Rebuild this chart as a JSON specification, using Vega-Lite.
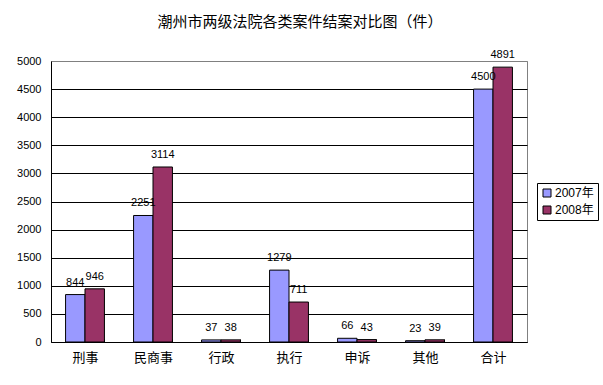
{
  "$schema": "https://vega.github.io/schema/vega-lite/v6.json",
  "width": 476,
  "height": 281,
  "autosize": {"type": "none"},
  "padding": {"left": 51, "top": 61, "right": 76, "bottom": 43},
  "background": "white",
  "title": {
    "text": "潮州市两级法院各类案件结案对比图（件）",
    "font": "Noto Sans CJK SC",
    "fontSize": 15,
    "fontWeight": "normal",
    "color": "black",
    "anchor": "middle",
    "frame": "group",
    "baseline": "middle",
    "dx": 11,
    "offset": 12
  },
  "data": {
    "values": [
      {"category": "刑事", "year": "2007年", "count": 844},
      {"category": "刑事", "year": "2008年", "count": 946},
      {"category": "民商事", "year": "2007年", "count": 2251},
      {"category": "民商事", "year": "2008年", "count": 3114},
      {"category": "行政", "year": "2007年", "count": 37},
      {"category": "行政", "year": "2008年", "count": 38},
      {"category": "执行", "year": "2007年", "count": 1279},
      {"category": "执行", "year": "2008年", "count": 711},
      {"category": "申诉", "year": "2007年", "count": 66},
      {"category": "申诉", "year": "2008年", "count": 43},
      {"category": "其他", "year": "2007年", "count": 23},
      {"category": "其他", "year": "2008年", "count": 39},
      {"category": "合计", "year": "2007年", "count": 4500},
      {"category": "合计", "year": "2008年", "count": 4891}
    ]
  },
  "encoding": {
    "x": {
      "field": "category",
      "type": "nominal",
      "sort": null,
      "title": null,
      "scale": {"paddingInner": 0.4286, "paddingOuter": 0.2143},
      "axis": {
        "labelAngle": 0,
        "labelFont": "Noto Sans CJK SC",
        "labelFontSize": 13,
        "labelColor": "black",
        "labelBaseline": "top",
        "labelPadding": 12,
        "tickBand": "extent",
        "tickSize": -3,
        "tickColor": "black",
        "domainColor": "black",
        "grid": false
      }
    },
    "xOffset": {"field": "year", "type": "nominal", "scale": {"paddingInner": 0, "paddingOuter": 0}},
    "y": {
      "field": "count",
      "type": "quantitative",
      "title": null,
      "scale": {"domain": [0, 5000], "nice": false},
      "axis": {
        "values": [0, 500, 1000, 1500, 2000, 2500, 3000, 3500, 4000, 4500, 5000],
        "format": "d",
        "labelFont": "Liberation Sans",
        "labelFontSize": 11,
        "labelColor": "black",
        "labelPadding": 10,
        "ticks": false,
        "domainColor": "black",
        "grid": true,
        "gridColor": {"condition": {"test": "datum.value === 5000", "value": "#808080"}, "value": "black"},
        "gridOpacity": 1
      }
    }
  },
  "layer": [
    {
      "mark": {"type": "bar", "stroke": "black", "strokeWidth": 1},
      "encoding": {
        "color": {
          "field": "year",
          "type": "nominal",
          "scale": {"domain": ["2007年", "2008年"], "range": ["#9999FF", "#993366"]},
          "legend": {
            "title": null,
            "orient": "none",
            "legendX": 486,
            "legendY": 122,
            "direction": "vertical",
            "symbolType": "square",
            "symbolSize": 64,
            "symbolStrokeColor": "black",
            "symbolStrokeWidth": 1,
            "symbolOpacity": 1,
            "labelFont": "Liberation Sans, Noto Sans CJK SC",
            "labelFontSize": 12,
            "labelColor": "black",
            "labelOffset": 2,
            "rowPadding": 5,
            "padding": 4,
            "strokeColor": "black",
            "fillColor": "white"
          }
        }
      }
    },
    {
      "mark": {"type": "text", "baseline": "middle", "dy": -12, "font": "Liberation Sans", "fontSize": 11, "color": "black"},
      "encoding": {"text": {"field": "count", "type": "quantitative", "format": "d"}}
    }
  ],
  "config": {
    "view": {"stroke": "#808080", "strokeWidth": 1, "fill": "white"}
  }
}
